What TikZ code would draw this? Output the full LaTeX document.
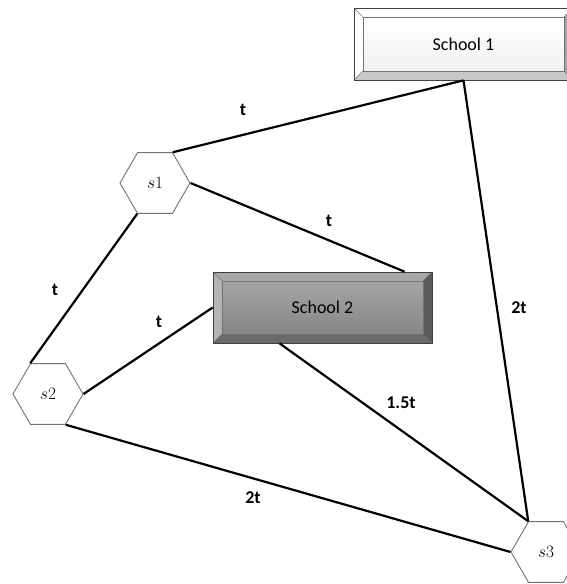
\documentclass[tikz,border=0pt]{standalone}
\usepackage[no-math]{fontspec}
\setmainfont{Carlito}
\usetikzlibrary{shapes.geometric}

\definecolor{bevelgray}{HTML}{C8C8C8}
\definecolor{bevelmid}{HTML}{A6A6A6}
\definecolor{facegray}{HTML}{8E8E8E}
\definecolor{topgray}{HTML}{A8A8A8}
\definecolor{leftgray}{HTML}{B4B4B4}
\definecolor{lowgray}{HTML}{6A6A6A}
\definecolor{rightgray}{HTML}{595959}

\tikzset{
  % bevelled box: face, top, left, bottom, right
  school/.style n args={5}{rectangle, draw=black!75, line width=0.7pt,
    inner sep=0pt, minimum width=219pt, font=\fontsize{18}{20}\selectfont,
    fill=#1,
    path picture={
      \coordinate (A) at (path picture bounding box.north west);
      \coordinate (B) at (path picture bounding box.north east);
      \coordinate (C) at (path picture bounding box.south east);
      \coordinate (D) at (path picture bounding box.south west);
      \shade[top color=#1!80!white, bottom color=#1!95!black]
        ([shift={(9pt,-9pt)}]A) rectangle ([shift={(-9pt,9pt)}]C);
      \fill[#2] (A) -- (B) -- ([shift={(-9pt,-9pt)}]B) -- ([shift={(9pt,-9pt)}]A) -- cycle;
      \fill[#3] (A) -- ([shift={(9pt,-9pt)}]A) -- ([shift={(9pt,9pt)}]D) -- (D) -- cycle;
      \fill[#4] (D) -- ([shift={(9pt,9pt)}]D) -- ([shift={(-9pt,9pt)}]C) -- (C) -- cycle;
      \fill[#5] (B) -- ([shift={(-9pt,-9pt)}]B) -- ([shift={(-9pt,9pt)}]C) -- (C) -- cycle;
      \draw[black!55, line width=0.6pt] ([shift={(9pt,-9pt)}]A) rectangle ([shift={(-9pt,9pt)}]C);
      \draw[black!55, line width=0.5pt] (A) -- ++(9pt,-9pt) (B) -- ++(-9pt,-9pt)
        (C) -- ++(-9pt,9pt) (D) -- ++(9pt,9pt);
    }},
  site/.style={regular polygon, regular polygon sides=6, minimum size=70pt,
    inner sep=0pt, draw=black!55, line width=0.9pt, fill=white,
    font=\fontsize{19}{21}\selectfont},
  link/.style={line width=2.2pt, black},
  cost/.style={font=\fontsize{18}{20}\selectfont\bfseries}
}

\begin{document}
\begin{tikzpicture}[x=1pt,y=-1pt]
  \path[use as bounding box, clip] (0,0) rectangle (567,584);

  % Schools
  \node[school={white}{white}{white}{bevelgray}{bevelmid}, minimum height=72pt]
    (school1) at (463.5,44) {School 1};
  \node[school={facegray}{topgray}{leftgray}{lowgray}{rightgray}, minimum height=71pt]
    (school2) at (322.5,307.5) {School 2};

  % Sites
  \node[site] (s1) at (155,183) {$s1$};
  \node[site] (s2) at (48,394) {$s2$};
  \node[site] (s3) at (546,552) {$s3$};

  % Roads
  \draw[link] (s1.60) -- (school1.south);
  \draw[link] (school1.south) -- (s3.120);
  \draw[link] (s1.0) -- ([xshift=82pt]school2.north);
  \draw[link] (s1.-120) -- (s2.120);
  \draw[link] (s2.0) -- (school2.west);
  \draw[link] (s2.-60) -- (s3.180);
  \draw[link] ([xshift=-43pt]school2.south) -- (s3.120);

  % Costs
  \node[cost] (c1) at (243,110) {t};
  \node[cost] (c2) at (329,221) {t};
  \node[cost] (c3) at (55,290) {t};
  \node[cost] (c4) at (159,322) {t};
  \node[cost] (c5) at (519,308) {2t};
  \node[cost] (c6) at (401,403) {1.5t};
  \node[cost] (c7) at (253,498) {2t};
\end{tikzpicture}
\end{document}
